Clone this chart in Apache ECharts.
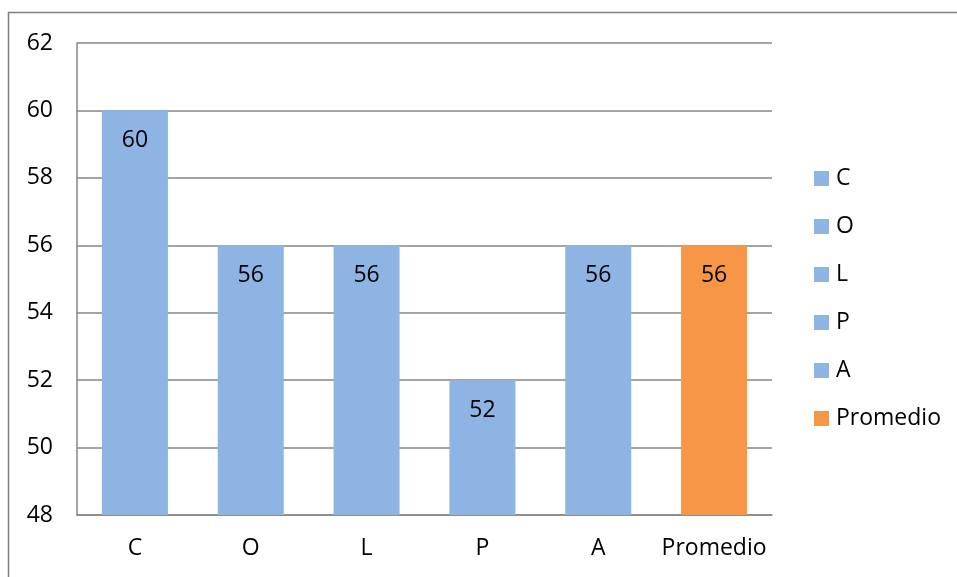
<!DOCTYPE html>
<html>
<head>
<meta charset="utf-8">
<script src="https://cdn.jsdelivr.net/npm/echarts@6/dist/echarts.min.js"></script>
<style>html,body{margin:0;padding:0;background:#fff}#c{width:957px;height:577px}</style>
</head>
<body>
<div id="c"></div>
<script>
const categories = ['C', 'O', 'L', 'P', 'A', 'Promedio'];
const values = [60, 56, 56, 52, 56, 56];
const colors = ['#8EB4E3', '#8EB4E3', '#8EB4E3', '#8EB4E3', '#8EB4E3', '#F79646'];
const yTicks = { min: 48, max: 62, interval: 2 };

const font = 'Open Sans';
const fs = 23;
const series = categories.map((name, i) => ({
  name: name,
  type: 'bar',
  stack: 'all',
  barWidth: 66,
  itemStyle: { color: colors[i] },
  label: {
    show: true, position: 'insideTop', distance: 19,
    color: '#000', fontSize: fs, fontFamily: font,
    formatter: p => p.value
  },
  data: values.map((v, j) => (j === i ? v : '-'))
}));

const chart = echarts.init(document.getElementById('c'));
chart.setOption({
  animation: false,
  backgroundColor: '#fff',
  graphic: [{
    type: 'rect', shape: { x: 8.5, y: 12.5, width: 960, height: 600 },
    style: { fill: 'none', stroke: '#7f7f7f', lineWidth: 1.5 }, silent: true
  }],
  grid: { left: 77, right: 185, top: 43, bottom: 62 },
  legend: {
    orient: 'vertical', left: 814, top: 167, itemGap: 25, padding: 0,
    itemWidth: 15, itemHeight: 15, icon: 'rect',
    textStyle: { color: '#000', fontSize: fs, fontFamily: font, padding: [0, 0, 0, 2] },
    data: categories
  },
  xAxis: {
    type: 'category', data: categories,
    axisLine: { lineStyle: { color: '#868686', width: 1.5 } },
    axisTick: { show: false },
    axisLabel: { color: '#000', fontSize: fs, fontFamily: font, margin: 22, interval: 0 }
  },
  yAxis: {
    type: 'value', min: yTicks.min, max: yTicks.max, interval: yTicks.interval,
    axisLine: { show: true, lineStyle: { color: '#868686', width: 1.5 } },
    axisTick: { show: false },
    splitLine: { lineStyle: { color: '#868686', width: 1.5 } },
    axisLabel: { color: '#000', fontSize: fs, fontFamily: font, margin: 24 }
  },
  series: series
});
</script>
</body>
</html>
